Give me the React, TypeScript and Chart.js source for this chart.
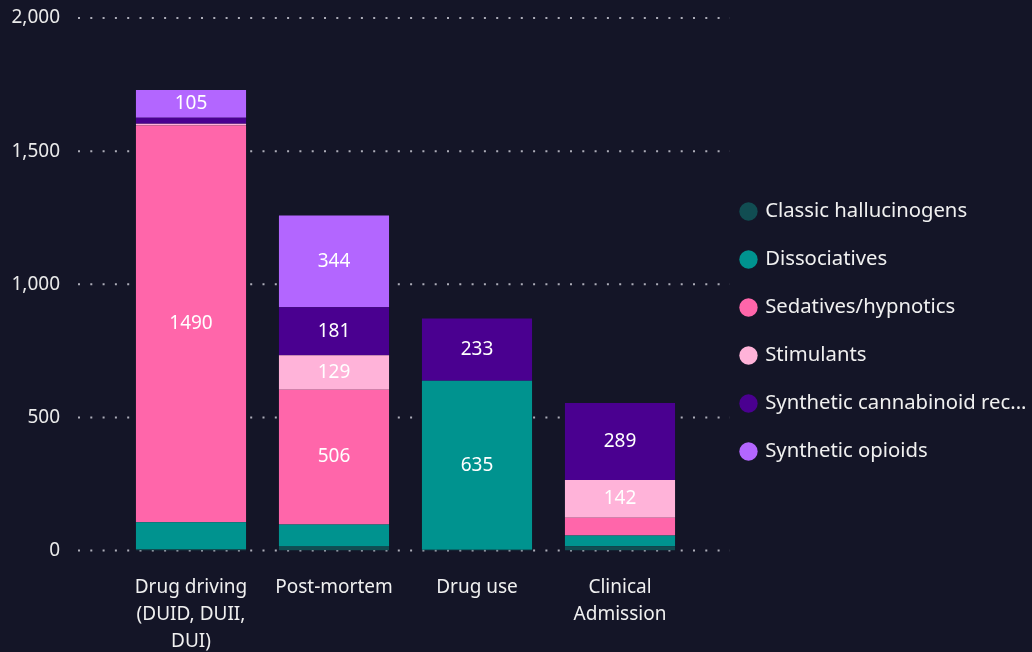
import React, { useEffect, useRef } from "react";
import { Chart, registerables } from "chart.js";

Chart.register(...registerables);

// ---- Data ----
const categories: (string | string[])[] = [
  ["Drug driving", "(DUID, DUII,", "DUI)"],
  "Post-mortem",
  "Drug use",
  ["Clinical", "Admission"],
];
const seriesNames = [
  "Classic hallucinogens",
  "Dissociatives",
  "Sedatives/hypnotics",
  "Stimulants",
  "Synthetic cannabinoid receptor agonists",
  "Synthetic opioids",
];
const classicHallucinogens = [6, 15, 3, 16];
const dissociatives = [100, 83, 635, 40];
const sedativesHypnotics = [1490, 506, 0, 67];
const stimulants = [7, 129, 0, 142];
const syntheticCannabinoids = [22, 181, 233, 289];
const syntheticOpioids = [105, 344, 0, 0];
const yTicks = [0, 500, 1000, 1500, 2000];

const seriesColors = ["#114d52", "#00938f", "#ff66aa", "#ffb3d9", "#4a0090", "#b366ff"];
const BG = "#141527";
const FONT = "'Noto Sans', sans-serif";

const dotGrid = {
  id: "dotGrid",
  beforeDatasetsDraw(chart: any) {
    const { ctx, chartArea, scales } = chart;
    const y = scales.y;
    ctx.save();
    ctx.strokeStyle = "rgba(200,200,210,0.85)";
    ctx.lineWidth = 2;
    ctx.setLineDash([2, 10.3]);
    for (const v of yTicks) {
      const py = y.getPixelForValue(v);
      ctx.beginPath();
      ctx.moveTo(chartArea.left - 41.5, py);
      ctx.lineTo(chartArea.right + 38.5, py);
      ctx.stroke();
    }
    ctx.restore();
  },
};

const barLabels = {
  id: "barLabels",
  afterDatasetsDraw(chart: any) {
    const { ctx } = chart;
    ctx.save();
    ctx.fillStyle = "#ffffff";
    ctx.font = `19px ${FONT}`;
    ctx.textAlign = "center";
    ctx.textBaseline = "middle";
    chart.data.datasets.forEach((ds: any, i: number) => {
      const meta = chart.getDatasetMeta(i);
      meta.data.forEach((el: any, j: number) => {
        const v = ds.data[j];
        if (v > 104) {
          ctx.fillText(String(v), el.x, (el.y + el.base) / 2);
        }
      });
    });
    ctx.restore();
  },
};

const legendShift = {
  id: "legendShift",
  afterLayout(chart: any) {
    if (chart.legend) {
      chart.legend.top -= 3.5;
      chart.legend.bottom -= 3.5;
      chart.legend.left -= 2;
      chart.legend.right -= 2;
    }
  },
};

export default function App() {
  const ref = useRef<HTMLCanvasElement | null>(null);

  useEffect(() => {
    if (!ref.current) return;
    const seriesData = [
      classicHallucinogens,
      dissociatives,
      sedativesHypnotics,
      stimulants,
      syntheticCannabinoids,
      syntheticOpioids,
    ];
    const chart = new Chart(ref.current, {
      type: "bar",
      data: {
        labels: categories,
        datasets: seriesNames.map((name, i) => ({
          label: name,
          data: seriesData[i],
          backgroundColor: seriesColors[i],
          borderWidth: 0,
          barPercentage: 1,
          categoryPercentage: 0.77,
        })),
      },
      options: {
        animation: false,
        responsive: true,
        maintainAspectRatio: false,
        layout: { padding: { top: 18, right: 0, bottom: 0, left: 0 } },
        font: { family: FONT },
        plugins: {
          tooltip: { enabled: false },
          legend: {
            position: "right",
            maxWidth: 315.7,
            labels: {
              color: "#f0f0f0",
              font: { family: FONT, size: 20.3 },
              usePointStyle: true,
              pointStyle: "circle",
              boxWidth: 13,
              boxHeight: 13,
              padding: 27.7,
              generateLabels: (c: any) => {
                const items = Chart.defaults.plugins.legend.labels.generateLabels(c);
                return items.map((it: any) => ({
                  ...it,
                  text: it.text.length > 25 ? it.text.slice(0, 25) + "..." : it.text,
                  strokeStyle: it.fillStyle,
                  lineWidth: 0,
                }));
              },
            },
          },
        },
        scales: {
          x: {
            stacked: true,
            grid: { display: false, drawTicks: false },
            border: { display: false },
            ticks: {
              color: "#f0f0f0",
              font: { family: FONT, size: 19, lineHeight: "27px" } as any,
              padding: 24,
              maxRotation: 0,
              autoSkip: false,
            },
            afterFit: (s: any) => {
              s.height = s.chart.height - 550.5;
            },
          },
          y: {
            stacked: true,
            min: 0,
            max: 2000,
            grid: { display: false, drawTicks: true, tickLength: 57 },
            border: { display: false },
            ticks: {
              stepSize: 500,
              color: "#eaeaea",
              font: { family: FONT, size: 19 },
              padding: 2.5,
              callback: (v: any) => Number(v).toLocaleString("en-US"),
            },
            afterFit: (s: any) => {
              s.width = 119.5;
            },
          },
          yRight: {
            position: "right",
            display: true,
            grid: { display: false, drawTicks: false },
            border: { display: false },
            ticks: { display: false },
            afterFit: (s: any) => {
              const lw = s.chart.legend ? s.chart.legend.width : 0;
              s.width = Math.max(0, s.chart.width - lw - 691.5);
            },
          },
        },
      },
      plugins: [dotGrid, barLabels, legendShift],
    });
    return () => chart.destroy();
  }, []);

  return (
    <div
      style={{
        position: "fixed",
        left: 0,
        top: 0,
        width: 1032,
        height: 652,
        background: BG,
      }}
    >
      <canvas ref={ref} />
    </div>
  );
}
